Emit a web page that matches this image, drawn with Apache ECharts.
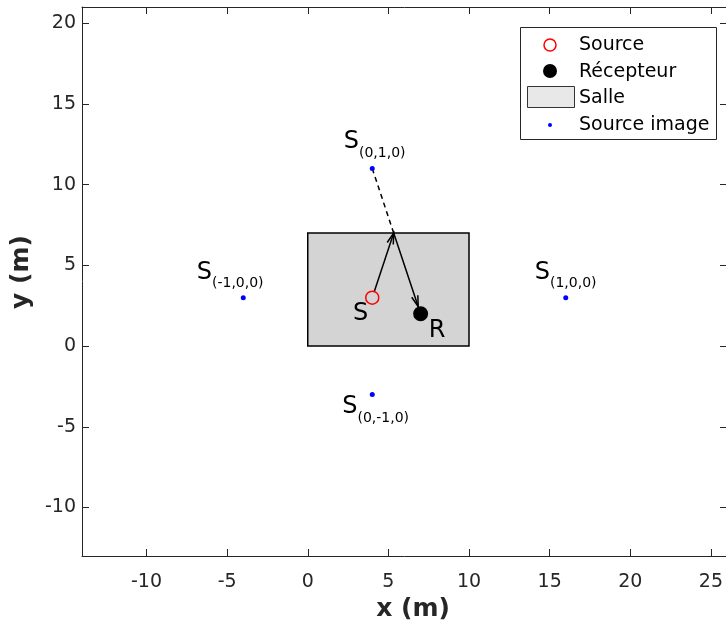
<!DOCTYPE html>
<html>
<head>
<meta charset="utf-8">
<script src="https://cdn.jsdelivr.net/npm/echarts@6/dist/echarts.min.js"></script>
<style>
html, body { margin: 0; padding: 0; background: #fff; }
#chart { width: 726px; height: 628px; }
</style>
</head>
<body>
<div id="chart"></div>
<script>
// donnees
var xTicks = [-10, -5, 0, 5, 10, 15, 20, 25];
var yTicks = [-10, -5, 0, 5, 10, 15, 20];
var salleX = [0, 10];
var salleY = [0, 7];
var source = [4, 3];
var recepteur = [7, 2];
var imageNoms = ['(0,1,0)', '(-1,0,0)', '(1,0,0)', '(0,-1,0)'];
var imageX = [4, -4, 16, 4];
var imageY = [11, 3, 3, -3];
var reflexion = [5.33, 7];
var legendeNoms = ['Source', 'Récepteur', 'Salle', 'Source image'];

// decalages des etiquettes (px)
var decalages = [[-28.5, -26.5], [-46.5, -25], [-31, -25], [-30, 12.5]];

var police = 'DejaVu Sans';
var gris = '#262626';

// rayons : image -> reflexion, source -> reflexion, reflexion -> recepteur
var rayons = [
    [imageX[0], imageY[0], reflexion[0], reflexion[1]],
    [source[0], source[1], reflexion[0], reflexion[1]],
    [reflexion[0], reflexion[1], recepteur[0], recepteur[1]]
];
var rayonStyle = [
    {dash: true, tete: false, debut: 0, fin: 0},
    {dash: false, tete: true, debut: 6.5, fin: 0},
    {dash: false, tete: true, debut: 0, fin: 7.5}
];

function renderSalle(params, api) {
    var p0 = api.coord([api.value(0), api.value(1)]);
    var p1 = api.coord([api.value(2), api.value(3)]);
    return {
        type: 'rect',
        shape: {x: p0[0], y: p1[1], width: p1[0] - p0[0], height: p0[1] - p1[1]},
        style: {fill: '#d4d4d4', stroke: '#000', lineWidth: 1.5}
    };
}

function renderRayon(params, api) {
    var a = api.coord([api.value(0), api.value(1)]);
    var b = api.coord([api.value(2), api.value(3)]);
    var st = rayonStyle[params.dataIndex];
    var dx = b[0] - a[0], dy = b[1] - a[1];
    var len = Math.sqrt(dx * dx + dy * dy);
    var ux = dx / len, uy = dy / len;
    var p1 = [a[0] + ux * st.debut, a[1] + uy * st.debut];
    var p2 = [b[0] - ux * st.fin, b[1] - uy * st.fin];
    var children = [{
        type: 'line',
        shape: {x1: p1[0], y1: p1[1], x2: p2[0], y2: p2[1]},
        style: {stroke: '#000', lineWidth: 1.5, lineDash: st.dash ? [5, 4] : null}
    }];
    if (st.tete) {
        var L = 11, W = 3.2;
        var bx = p2[0] - ux * L, by = p2[1] - uy * L;
        children.push({
            type: 'polyline',
            shape: {points: [[bx - uy * W, by + ux * W], p2, [bx + uy * W, by - ux * W]]},
            style: {stroke: '#000', lineWidth: 1.5, fill: null}
        });
    }
    return {type: 'group', children: children};
}

var axeX = {
    type: 'value', min: -14, max: 26,
    axisLine: {show: true, onZero: false, lineStyle: {color: gris, width: 1}},
    splitLine: {show: false}
};

var option = {
    backgroundColor: '#fff',
    animation: false,
    grid: {left: 82, top: 7, right: -1, bottom: 72, containLabel: false, outerBoundsMode: 'none'},
    xAxis: [
        echarts.util.merge({
            position: 'bottom',
            name: 'x (m)', nameLocation: 'middle', nameGap: 41,
            nameTextStyle: {fontFamily: police, fontSize: 25, fontWeight: 'bold', color: gris, padding: [0, 0, 0, 17]},
            axisTick: {show: true, inside: true, length: 7, customValues: xTicks, lineStyle: {color: gris}},
            axisLabel: {show: true, customValues: xTicks, margin: 16.5, fontFamily: police, fontSize: 19, color: gris}
        }, axeX, true),
        echarts.util.merge({
            position: 'top',
            axisTick: {show: true, inside: true, length: 7, customValues: xTicks, lineStyle: {color: gris}},
            axisLabel: {show: false}
        }, axeX, true)
    ],
    yAxis: [
        {
            type: 'value', min: -13, max: 21, position: 'left',
            name: 'y (m)', nameLocation: 'middle', nameGap: 45, nameRotate: 90,
            nameTextStyle: {fontFamily: police, fontSize: 25, fontWeight: 'bold', color: gris, padding: [0, 0, 0, 19]},
            axisLine: {show: true, onZero: false, lineStyle: {color: gris, width: 1}},
            axisTick: {show: true, inside: true, length: 7, customValues: yTicks, lineStyle: {color: gris}},
            axisLabel: {show: true, customValues: yTicks, margin: 6, fontFamily: police, fontSize: 19, color: gris},
            splitLine: {show: false}
        },
        {
            type: 'value', min: -13, max: 21, position: 'right',
            axisLine: {show: true, onZero: false, lineStyle: {color: gris, width: 1}},
            axisTick: {show: true, inside: true, length: 7, customValues: yTicks, lineStyle: {color: gris}},
            axisLabel: {show: false},
            splitLine: {show: false}
        }
    ],
    series: [
        {
            name: legendeNoms[2], type: 'custom', z: 1,
            renderItem: renderSalle,
            data: [[salleX[0], salleY[0], salleX[1], salleY[1]]]
        },
        {
            name: 'rayons', type: 'custom', z: 2,
            renderItem: renderRayon,
            data: rayons
        },
        {
            name: legendeNoms[0], type: 'scatter', z: 3,
            symbol: 'circle', symbolSize: 13,
            itemStyle: {color: 'transparent', borderColor: '#ff0000', borderWidth: 1.5, opacity: 1},
            label: {show: true, position: 'inside', formatter: 'S', align: 'right', verticalAlign: 'middle',
                offset: [-4, 16], fontFamily: police, fontSize: 24, color: '#000'},
            data: [source]
        },
        {
            name: legendeNoms[1], type: 'scatter', z: 3,
            symbol: 'circle', symbolSize: 15,
            itemStyle: {color: '#000', opacity: 1},
            label: {show: true, position: 'inside', formatter: 'R', align: 'left', verticalAlign: 'middle',
                offset: [8, 16.5], fontFamily: police, fontSize: 24, color: '#000'},
            data: [recepteur]
        },
        {
            name: legendeNoms[3], type: 'scatter', z: 3,
            symbol: 'circle', symbolSize: 5,
            itemStyle: {color: '#0000ff', opacity: 1},
            label: {
                show: true, position: 'inside', align: 'left', verticalAlign: 'middle',
                formatter: function (p) { return '{s|S}{i|' + imageNoms[p.dataIndex] + '}'; },
                rich: {
                    s: {fontFamily: police, fontSize: 24, lineHeight: 36, color: '#000'},
                    i: {fontFamily: police, fontSize: 14, lineHeight: 15, verticalAlign: 'bottom', color: '#000'}
                }
            },
            data: imageX.map(function (x, i) {
                return {value: [x, imageY[i]], label: {offset: decalages[i]}};
            })
        }
    ],
    graphic: [
        {type: 'rect', z: 100, shape: {x: 520.5, y: 27.5, width: 196, height: 112},
            style: {fill: '#fff', stroke: gris, lineWidth: 1}},
        {type: 'circle', z: 101, shape: {cx: 550, cy: 45, r: 6}, style: {fill: null, stroke: '#ff0000', lineWidth: 1.5}},
        {type: 'circle', z: 101, shape: {cx: 550, cy: 71, r: 7}, style: {fill: '#000'}},
        {type: 'rect', z: 101, shape: {x: 527.5, y: 86.5, width: 47, height: 21}, style: {fill: '#e8e8e8', stroke: '#333', lineWidth: 1}},
        {type: 'circle', z: 101, shape: {cx: 550, cy: 125, r: 2}, style: {fill: '#0000ff'}},
        {type: 'text', z: 101, x: 579, y: 45, style: {text: legendeNoms[0], font: '19px "DejaVu Sans"', fill: '#000', verticalAlign: 'middle'}},
        {type: 'text', z: 101, x: 579, y: 72, style: {text: legendeNoms[1], font: '19px "DejaVu Sans"', fill: '#000', verticalAlign: 'middle'}},
        {type: 'text', z: 101, x: 579, y: 98, style: {text: legendeNoms[2], font: '19px "DejaVu Sans"', fill: '#000', verticalAlign: 'middle'}},
        {type: 'text', z: 101, x: 579, y: 125, style: {text: legendeNoms[3], font: '19px "DejaVu Sans"', fill: '#000', verticalAlign: 'middle'}}
    ]
};

var chart = echarts.init(document.getElementById('chart'));
chart.setOption(option);
</script>
</body>
</html>
